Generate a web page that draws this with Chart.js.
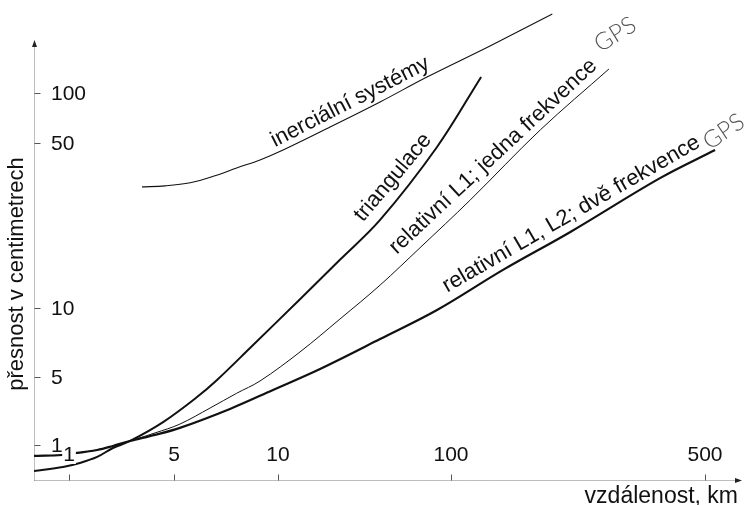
<!DOCTYPE html>
<html>
<head>
<meta charset="utf-8">
<script src="https://cdn.jsdelivr.net/npm/chart.js@4.4.1/dist/chart.umd.min.js"></script>
<style>
html,body{margin:0;padding:0;background:#fff}
#wrap{width:745px;height:505px;position:relative}
</style>
</head>
<body>
<div id="wrap"><canvas id="c" width="745" height="505"></canvas></div>
<script>
// ---- data (km on x, cm on y) ----
const xTickValues = [1, 5, 10, 100, 500];
const yTickValues = [1, 5, 10, 50, 100];
const xAxisTitle = 'vzdálenost, km';
const yAxisTitle = 'přesnost v centimetrech';

const inertialKm = [3.06, 4.36, 5.57, 6.57, 7.59, 8.87, 10.7, 20.0, 38.9, 72.6, 128, 190];
const inertialCm = [32.6, 32.9, 33.9, 36.3, 39.2, 42.4, 46.7, 62.4, 88.3, 124.8, 192, 299];

const triangKm = [0.585, 0.912, 1.18, 1.54, 1.96, 2.55, 4.23, 5.83, 6.66, 8.30, 13.4, 22.8, 38.9, 83.0, 121];
const triangCm = [0.540, 0.594, 0.653, 0.753, 0.931, 1.10, 1.72, 3.11, 4.66, 6.69, 10.9, 16.0, 23.6, 48.1, 125];

const l1Km = [0.585, 0.898, 1.13, 1.54, 1.96, 2.55, 3.74, 5.20, 6.36, 7.59, 8.87, 13.4, 22.8, 38.9, 66.2, 113, 176, 272];
const l1Cm = [0.771, 0.789, 0.828, 0.888, 0.977, 1.10, 1.33, 1.64, 2.40, 3.40, 4.55, 6.43, 8.95, 12.5, 18.0, 28.7, 59.9, 139.5];

const l1l2Km = [0.585, 0.898, 1.13, 1.54, 1.96, 2.55, 3.74, 5.20, 7.26, 9.67, 17.5, 38.9, 83.0, 139, 213, 376, 533];
const l1l2Cm = [0.771, 0.789, 0.828, 0.888, 0.977, 1.10, 1.27, 1.50, 2.35, 3.68, 5.42, 7.32, 9.80, 14.5, 21.0, 35.5, 46.7];

const curveLabels = [
  {text: 'inerciální systémy', km: 9.8, cm: 48.0, angle: -27},
  {text: 'triangulace', km: 31.0, cm: 23.0, angle: -50},
  {text: 'relativní L1; jedna frekvence', km: 48.5, cm: 16.8, angle: -43},
  {text: 'GPS', km: 258, cm: 175, angle: -32, gps: true},
  {text: 'relativní L1, L2; dvě frekvence', km: 95, cm: 11.6, angle: -30},
  {text: 'GPS', km: 515, cm: 46.5, angle: -34, gps: true}
];

// ---- schematic (piecewise logarithmic) scale ----
class PiecewiseLogScale extends Chart.LinearScale {
  static id = 'piecewiseLog';
  static defaults = Chart.LinearScale.defaults;
  buildTicks() {
    this.start = this.min; this.end = this.max;
    return this.options.anchorValues.map(v => ({value: v}));
  }
  _dec(v) {
    const a = this.options.anchorValues.map(Math.log10);
    const p = this.options.anchorPositions;
    const n = a.length, L = Math.log10(v);
    let i = 0;
    if (L >= a[n - 1]) i = n - 2;
    else if (L > a[0]) { while (L > a[i + 1]) i++; }
    return p[i] + (L - a[i]) * (p[i + 1] - p[i]) / (a[i + 1] - a[i]);
  }
  getPixelForValue(v) { return this.getPixelForDecimal(this._dec(v)); }
  getValueForPixel(px) {
    const d = this.getDecimalForPixel(px);
    const a = this.options.anchorValues.map(Math.log10);
    const p = this.options.anchorPositions;
    const n = a.length;
    let i = 0;
    if (d >= p[n - 1]) i = n - 2;
    else if (d > p[0]) { while (d > p[i + 1]) i++; }
    return Math.pow(10, a[i] + (d - p[i]) * (a[i + 1] - a[i]) / (p[i + 1] - p[i]));
  }
}
Chart.register(PiecewiseLogScale);

const toPts = (xs, ys) => xs.map((x, i) => ({x: x, y: ys[i]}));
const FONT = '"Liberation Sans", Arial, Helvetica, sans-serif';

const drawPlugin = {
  id: 'schematic',
  beforeDatasetsDraw(chart) {
    const {ctx, chartArea: ca, scales: {x, y}} = chart;
    ctx.save();
    ctx.strokeStyle = '#7a7a7a';
    ctx.lineWidth = 1;
    ctx.setLineDash([1, 1]);
    const ax = Math.round(ca.left) + 0.5, ay = Math.round(ca.bottom) + 0.5;
    const yTop = y.getPixelForValue(200);
    ctx.beginPath();
    ctx.moveTo(ax, ay); ctx.lineTo(ax, yTop);
    ctx.moveTo(ax, ay); ctx.lineTo(ca.right, ay);
    ctx.stroke();
    ctx.setLineDash([]);
    ctx.fillStyle = '#222';
    ctx.beginPath();
    ctx.moveTo(ax, yTop - 3); ctx.lineTo(ax - 2.5, yTop + 4); ctx.lineTo(ax + 2.5, yTop + 4); ctx.closePath(); ctx.fill();
    ctx.beginPath();
    ctx.moveTo(ca.right + 2, ay); ctx.lineTo(ca.right - 5, ay - 2.5); ctx.lineTo(ca.right - 5, ay + 2.5); ctx.closePath(); ctx.fill();
    ctx.strokeStyle = '#555';
    ctx.beginPath();
    y.ticks.forEach(t => {
      const py = Math.round(y.getPixelForValue(t.value)) + 0.5;
      ctx.moveTo(ax, py); ctx.lineTo(ax + 6, py);
    });
    x.ticks.forEach(t => {
      const px = Math.round(x.getPixelForValue(t.value)) + 0.5;
      ctx.moveTo(px, ay); ctx.lineTo(px, ay - 6);
    });
    ctx.stroke();
    ctx.restore();
  },
  afterDatasetsDraw(chart) {
    const {ctx, chartArea: ca, scales: {x, y}} = chart;
    ctx.save();
    ctx.font = '21px ' + FONT;
    ctx.fillStyle = '#111';
    ctx.textAlign = 'left'; ctx.textBaseline = 'middle';
    y.ticks.forEach(t => {
      ctx.fillText(String(t.label), ca.left + 17, y.getPixelForValue(t.value) + 1);
    });
    ctx.textAlign = 'center'; ctx.textBaseline = 'bottom';
    x.ticks.forEach(t => {
      const px = x.getPixelForValue(t.value);
      const lbl = String(t.label);
      const w = ctx.measureText(lbl).width;
      ctx.fillStyle = '#fff';
      ctx.fillRect(px - w / 2 - 1, ca.bottom - 32, w + 2, 16);
      ctx.fillStyle = '#111';
      ctx.fillText(lbl, px, ca.bottom - 14);
    });
    ctx.font = '23px ' + FONT;
    ctx.textAlign = 'right'; ctx.textBaseline = 'alphabetic';
    ctx.fillText(xAxisTitle, ca.right - 2, 503);
    ctx.save();
    ctx.font = '22px ' + FONT;
    ctx.translate(23, 274);
    ctx.rotate(-Math.PI / 2);
    ctx.textAlign = 'center';
    ctx.fillText(yAxisTitle, 0, 0);
    ctx.restore();
    curveLabels.forEach(l => {
      const px = x.getPixelForValue(l.km), py = y.getPixelForValue(l.cm);
      ctx.save();
      ctx.translate(px, py);
      ctx.rotate(l.angle * Math.PI / 180);
      ctx.textAlign = 'left'; ctx.textBaseline = 'alphabetic';
      if (l.gps) { ctx.font = '300 24px Lato, "Open Sans", ' + FONT; ctx.fillStyle = '#555'; }
      else { ctx.font = '22px ' + FONT; ctx.fillStyle = '#111'; }
      ctx.fillText(l.text, 0, 0);
      ctx.restore();
    });
    ctx.restore();
  }
};

const lineDs = (label, xs, ys, w) => ({
  label: label, data: toPts(xs, ys), borderColor: '#111', borderWidth: w,
  pointRadius: 0, fill: false, tension: 0.35, clip: false
});

new Chart(document.getElementById('c'), {
  type: 'line',
  data: {
    datasets: [
      lineDs('inerciální systémy', inertialKm, inertialCm, 1.1),
      lineDs('triangulace', triangKm, triangCm, 2),
      lineDs('relativní L1; jedna frekvence GPS', l1Km, l1Cm, 1),
      lineDs('relativní L1, L2; dvě frekvence GPS', l1l2Km, l1l2Cm, 2.2)
    ]
  },
  options: {
    responsive: false,
    animation: false,
    devicePixelRatio: 1,
    layout: {padding: {left: 34, right: 5, top: 8, bottom: 25}},
    plugins: {legend: {display: false}, tooltip: {enabled: false}},
    events: [],
    scales: {
      x: {
        type: 'piecewiseLog', display: false,
        anchorValues: xTickValues,
        anchorPositions: [0.0496, 0.1983, 0.3456, 0.5907, 0.9504],
        ticks: {autoSkip: false, callback: v => String(v)}
      },
      y: {
        type: 'piecewiseLog', display: false,
        anchorValues: yTickValues,
        anchorPositions: [0.0742, 0.2182, 0.3644, 0.7140, 0.8199],
        ticks: {autoSkip: false, callback: v => String(v)}
      }
    }
  },
  plugins: [drawPlugin]
});
</script>
</body>
</html>
